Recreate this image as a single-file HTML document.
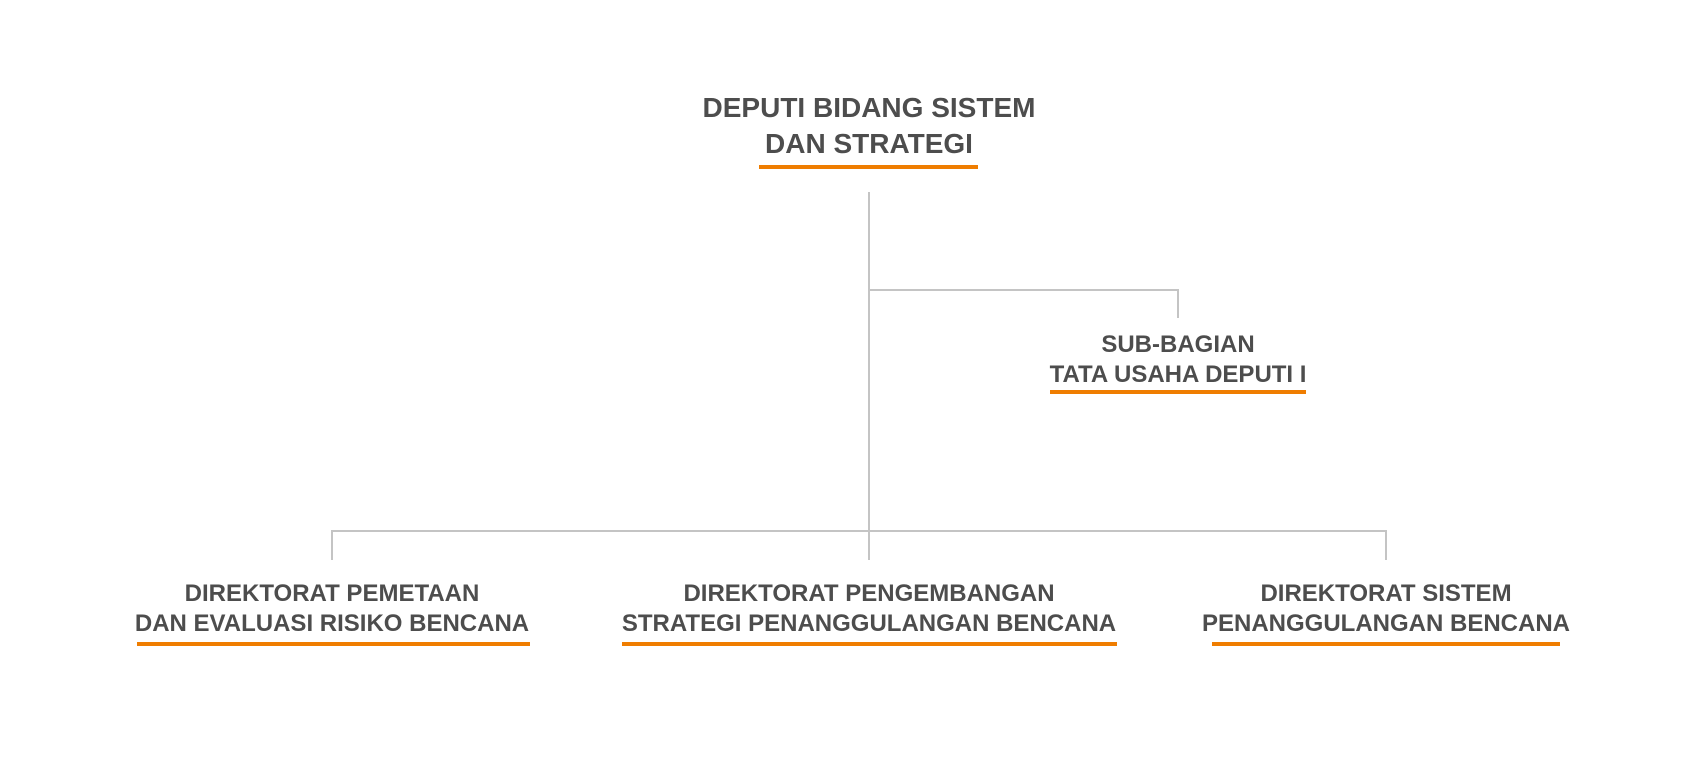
<!DOCTYPE html>
<html><head><meta charset="utf-8"><style>
html,body{margin:0;padding:0;background:#fff;}
svg{display:block}
text{font-family:"Liberation Sans",sans-serif;font-weight:bold;font-size:24px;fill:#4d4d4d;text-anchor:middle}
.t{font-size:28px}
</style></head><body>
<svg width="1708" height="758" viewBox="0 0 1708 758" xmlns="http://www.w3.org/2000/svg">
<g stroke="#c4c4c4" stroke-width="2" fill="none">
<line x1="869" y1="192" x2="869" y2="560"/>
<polyline points="869,290 1178,290 1178,318"/>
<polyline points="332,560 332,531 1386,531 1386,560"/>
</g>
<text class="t" x="869" y="117">DEPUTI BIDANG SISTEM</text>
<text class="t" x="869" y="153">DAN STRATEGI</text>
<rect x="759" y="165" width="219" height="4" fill="#ef7d00"/>
<text x="1178" y="352">SUB-BAGIAN</text>
<text x="1178" y="382">TATA USAHA DEPUTI I</text>
<rect x="1050" y="390" width="256" height="4" fill="#ef7d00"/>
<text x="332" y="601">DIREKTORAT PEMETAAN</text>
<text x="332" y="631">DAN EVALUASI RISIKO BENCANA</text>
<rect x="137" y="642" width="393" height="4" fill="#ef7d00"/>
<text x="869" y="601">DIREKTORAT PENGEMBANGAN</text>
<text x="869" y="631">STRATEGI PENANGGULANGAN BENCANA</text>
<rect x="622" y="642" width="495" height="4" fill="#ef7d00"/>
<text x="1386" y="601">DIREKTORAT SISTEM</text>
<text x="1386" y="631">PENANGGULANGAN BENCANA</text>
<rect x="1212" y="642" width="348" height="4" fill="#ef7d00"/>
</svg>
</body></html>
